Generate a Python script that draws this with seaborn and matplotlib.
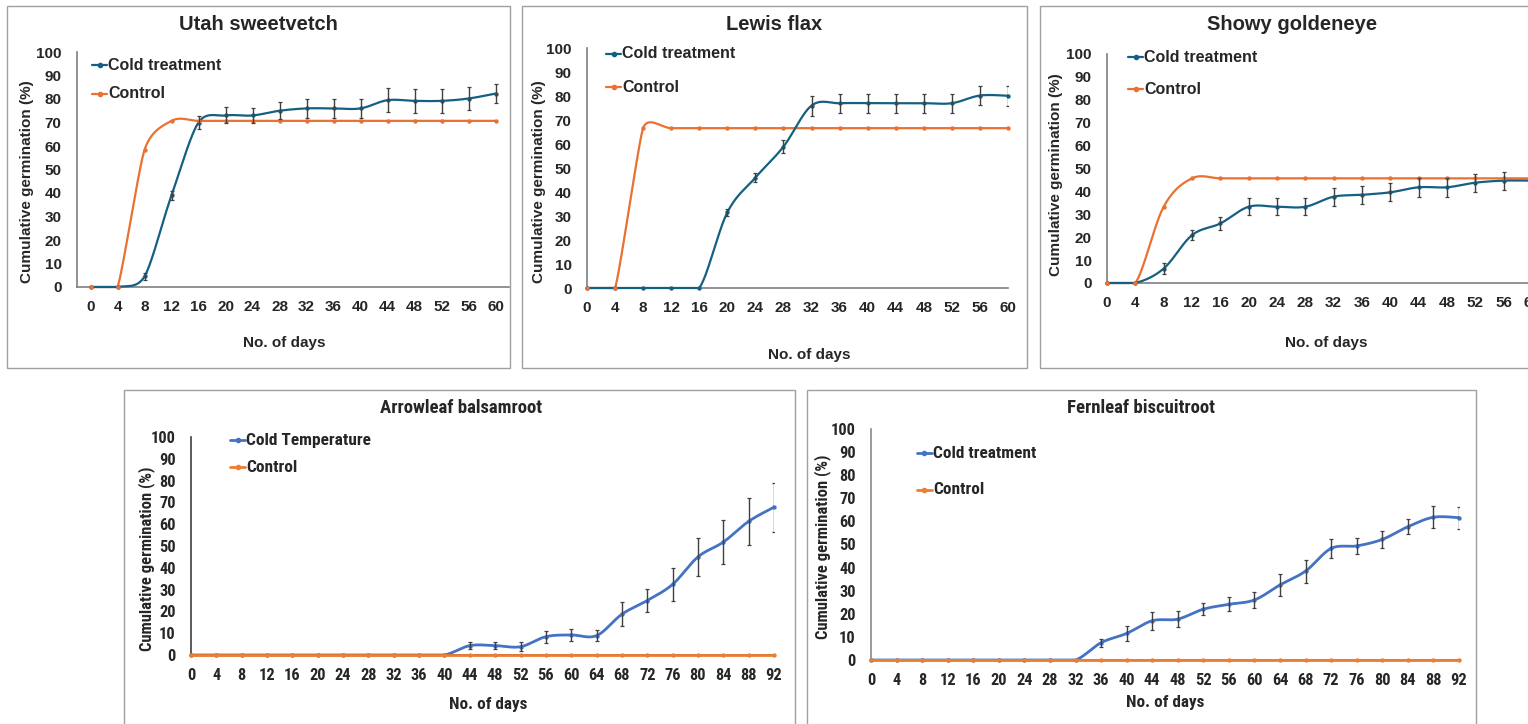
import numpy as np
import pandas as pd
import matplotlib
matplotlib.use("Agg")
import matplotlib.pyplot as plt
import seaborn as sns
from matplotlib import font_manager as fm
from matplotlib.lines import Line2D
from matplotlib.patches import Rectangle

# ---------------- data ----------------
days_60 = [0, 4, 8, 12, 16, 20, 24, 28, 32, 36, 40, 44, 48, 52, 56, 60]
days_92 = [0, 4, 8, 12, 16, 20, 24, 28, 32, 36, 40, 44, 48, 52, 56, 60,
           64, 68, 72, 76, 80, 84, 88, 92]

utah_cold = [0, 0, 4.5, 39, 70, 73, 73, 75, 76, 76, 76, 79.5, 79.2, 79.2, 80.2, 82.3]
utah_cold_err = [0, 0, 1.5, 2, 2.8, 3.4, 3.3, 3.7, 4.2, 4.2, 4.2, 5, 5, 5.1, 4.8, 3.9]
utah_control = [0, 0, 58.3, 70.7, 70.7, 70.7, 70.7, 70.7, 70.7, 70.7, 70.7, 70.7,
                70.7, 70.7, 70.7, 70.7]

lewis_cold = [0, 0, 0, 0, 0, 31.5, 46, 58.9, 76, 77, 77, 77, 77, 77, 80.2, 80.1]
lewis_cold_err = [0, 0, 0, 0, 0, 1.6, 2, 2.8, 4.2, 4, 4, 4, 4, 4, 4.1, 4.1]
lewis_control = [0, 0, 66.6, 66.6, 66.6, 66.6, 66.6, 66.6, 66.6, 66.6, 66.6, 66.6,
                 66.6, 66.6, 66.6, 66.6]

showy_cold = [0, 0, 6.3, 20.9, 26, 33.3, 33.3, 33.3, 37.7, 38.5, 39.6, 41.8, 41.8,
              43.8, 44.7, 44.7]
showy_cold_err = [0, 0, 2.3, 2.3, 3, 3.6, 3.6, 3.6, 3.9, 3.8, 4, 4.2, 4.2, 3.9, 3.9, 3.9]
showy_control = [0, 0, 33.3, 45.7, 45.7, 45.7, 45.7, 45.7, 45.7, 45.7, 45.7, 45.7,
                 45.7, 45.7, 45.7, 45.7]

arrow_cold = [0, 0, 0, 0, 0, 0, 0, 0, 0, 0, 0, 4.3, 4.3, 3.8, 8.4, 9.2, 8.9, 18.7,
              25, 32.4, 45, 51.8, 61.3, 67.8]
arrow_cold_err = [0, 0, 0, 0, 0, 0, 0, 0, 0, 0, 0, 1.6, 1.6, 2, 2.7, 2.6, 2.6, 5.5,
                  5.4, 7.7, 8.6, 10, 10.7, 11.2]
arrow_control = [0, 0, 0, 0, 0, 0, 0, 0, 0, 0, 0, 0, 0, 0, 0, 0, 0, 0, 0, 0, 0, 0, 0, 0]

fern_cold = [0, 0, 0, 0, 0, 0, 0, 0, 0, 7.5, 11.5, 17, 17.7, 22, 24.1, 26, 32.5, 38.5,
             48.3, 49.4, 52.2, 57.7, 61.8, 61.6]
fern_cold_err = [0, 0, 0, 0, 0, 0, 0, 0, 0, 1.8, 3.2, 3.8, 3.6, 2.7, 3.1, 3.6, 4.6, 5,
                 4, 3.5, 3.8, 3.2, 4.7, 4.7]
fern_control = [0, 0, 0, 0, 0, 0, 0, 0, 0, 0, 0, 0, 0, 0, 0, 0, 0, 0, 0, 0, 0, 0, 0, 0]

y_ticks = [0, 10, 20, 30, 40, 50, 60, 70, 80, 90, 100]

# ---------------- style ----------------
sns.set_style("white")


def pick_family(candidates):
    for fam in candidates:
        try:
            fm.findfont(fm.FontProperties(family=fam, weight="bold"),
                        fallback_to_default=False)
            return fam
        except Exception:
            continue
    return "DejaVu Sans"


WIDE = pick_family(["Liberation Sans", "Arial", "DejaVu Sans"])
NARROW = pick_family(["Liberation Sans Narrow", "Roboto Condensed", "Open Sans Condensed",
                      "DejaVu Sans Condensed", "Liberation Sans"])
plt.rcParams["font.family"] = [WIDE, "DejaVu Sans"]

W, H = 1528, 724
fig = plt.figure(figsize=(W / 100, H / 100), dpi=100)
fig.patch.set_facecolor("white")


def rect(l, r, t, b):
    return [l / W, 1 - b / H, (r - l) / W, (b - t) / H]


def fx(x):
    return x / W


def fy(y):
    return 1 - y / H


def excel_smooth(ax, x, y, n=30):
    """Bezier smoothing of a polyline in display space, Excel style."""
    P = ax.transData.transform(np.column_stack([x, y]))
    m = len(P)
    before, after = [], []
    for i in range(m):
        p0 = P[max(i - 1, 0)]
        p1 = P[i]
        p2 = P[min(i + 1, m - 1)]
        d02 = np.hypot(*(p2 - p0))
        d01 = np.hypot(*(p1 - p0))
        d12 = np.hypot(*(p2 - p1))
        if d02 == 0:
            before.append(p1)
            after.append(p1)
            continue
        lims = [d02 / 6]
        if d01 > 0:
            lims.append(d01 / 2)
        if d12 > 0:
            lims.append(d12 / 2)
        mag = min(lims)
        u = (p2 - p0) / d02
        before.append(p1 - u * mag)
        after.append(p1 + u * mag)
    t = np.linspace(0, 1, n)[:, None]
    pts = [P[:1]]
    for i in range(m - 1):
        a, b, c, d = P[i], after[i], before[i + 1], P[i + 1]
        seg = ((1 - t) ** 3) * a + 3 * ((1 - t) ** 2) * t * b + 3 * (1 - t) * t ** 2 * c + t ** 3 * d
        pts.append(seg[1:])
    pts = np.vstack(pts)
    out = ax.transData.inverted().transform(pts)
    return out[:, 0], np.clip(out[:, 1], 0, None)


panels = [
    dict(title="Utah sweetvetch", days=days_60, cold=utah_cold, err=utah_cold_err,
         control=utah_control, cold_label="Cold treatment",
         ax=(77, 509, 52, 287), xlim=(-2, 62), box=(7, 510, 6, 368),
         title_xy=(258, 24), xlabel_xy=(284, 343), ylabel_xy=(27, 182),
         legend=(92, 65, 94), family=WIDE, newtheme=True, control_on_top=False,
         tsize=14.5, ksize=11, lsize=11, ysize=11, gsize=11.5, spine="#7f7f7f"),
    dict(title="Lewis flax", days=days_60, cold=lewis_cold, err=lewis_cold_err,
         control=lewis_control, cold_label="Cold treatment",
         ax=(587, 1008, 48, 288), xlim=(0, 60), box=(522, 1027, 6, 368),
         title_xy=(774, 24), xlabel_xy=(809, 355), ylabel_xy=(539, 182),
         legend=(606, 54, 87), family=WIDE, newtheme=True, control_on_top=False,
         tsize=14.5, ksize=11, lsize=11, ysize=11, gsize=11.5, spine="#7f7f7f"),
    dict(title="Showy goldeneye", days=days_60, cold=showy_cold, err=showy_cold_err,
         control=showy_control, cold_label="Cold treatment",
         ax=(1107, 1532, 54, 283), xlim=(0, 60), box=(1040, 1560, 6, 368),
         title_xy=(1292, 24), xlabel_xy=(1326, 343), ylabel_xy=(1056, 175),
         legend=(1128, 57, 89), family=WIDE, newtheme=True, control_on_top=False,
         tsize=14.5, ksize=11, lsize=11, ysize=11, gsize=11.5, spine="#7f7f7f"),
    dict(title="Arrowleaf balsamroot", days=days_92, cold=arrow_cold, err=arrow_cold_err,
         control=arrow_control, cold_label="Cold Temperature",
         ax=(191, 774, 437, 655), xlim=(0, 92), box=(124, 795, 390, 760),
         title_xy=(461, 408), xlabel_xy=(488, 705), ylabel_xy=(147, 559),
         legend=(230, 440, 467), family=NARROW, newtheme=False, control_on_top=True,
         tsize=13.5, ksize=11.8, lsize=12.3, ysize=12, gsize=12.5, spine="#404040"),
    dict(title="Fernleaf biscuitroot", days=days_92, cold=fern_cold, err=fern_cold_err,
         control=fern_control, cold_label="Cold treatment",
         ax=(871, 1459, 429, 660), xlim=(0, 92), box=(807, 1476, 390, 760),
         title_xy=(1141, 408), xlabel_xy=(1165, 703), ylabel_xy=(823, 547),
         legend=(917, 453, 490), family=NARROW, newtheme=False, control_on_top=True,
         tsize=13.5, ksize=11.8, lsize=12.3, ysize=12, gsize=12.4, spine="#8a8a8a"),
]

for p in panels:
    l, r, t, b = p["box"]
    fig.add_artist(Rectangle((fx(l), fy(b)), (r - l) / W, (b - t) / H,
                             transform=fig.transFigure, fill=False,
                             edgecolor="#a0a0a0", linewidth=1.0))

    cold_c = "#156082" if p["newtheme"] else "#4472C4"
    ctrl_c = "#E97132" if p["newtheme"] else "#ED7D31"
    lw = 1.6 if p["newtheme"] else 2.0
    fam = p["family"]

    ax = fig.add_axes(rect(*p["ax"]))
    ax.set_facecolor("none")
    ax.set_xlim(*p["xlim"])
    ax.set_ylim(0, 100)

    days = np.array(p["days"], dtype=float)
    cold = np.array(p["cold"], dtype=float)
    err = np.array(p["err"], dtype=float)
    ctrl = np.array(p["control"], dtype=float)

    sx_c, sy_c = excel_smooth(ax, days, cold)
    sx_k, sy_k = excel_smooth(ax, days, ctrl)
    curve_c = pd.DataFrame({"day": sx_c, "val": sy_c})
    curve_k = pd.DataFrame({"day": sx_k, "val": sy_k})
    pts_c = pd.DataFrame({"day": days, "val": cold})
    pts_k = pd.DataFrame({"day": days, "val": ctrl})

    z_c, z_k = (2, 3) if p["control_on_top"] else (3, 2)
    sns.lineplot(data=curve_c, x="day", y="val", ax=ax, color=cold_c, lw=lw,
                 sort=False, estimator=None, zorder=z_c, clip_on=False)
    sns.lineplot(data=curve_k, x="day", y="val", ax=ax, color=ctrl_c, lw=lw,
                 sort=False, estimator=None, zorder=z_k, clip_on=False)
    sns.scatterplot(data=pts_c, x="day", y="val", ax=ax, color=cold_c, s=10,
                    linewidth=0, zorder=z_c + 0.1, clip_on=False)
    sns.scatterplot(data=pts_k, x="day", y="val", ax=ax, color=ctrl_c, s=10,
                    linewidth=0, zorder=3.5, clip_on=False)

    has = err > 0
    ax.errorbar(days[has], cold[has], yerr=err[has], fmt="none", ecolor="#404040",
                elinewidth=1.0, capsize=1.6, capthick=0.9, zorder=4)

    ax.set_xlabel("")
    ax.set_ylabel("")
    ax.set_xticks(p["days"])
    ax.set_xticklabels([str(d) for d in p["days"]], fontfamily=fam, fontweight="bold",
                       fontsize=p["ksize"])
    ax.set_yticks(y_ticks)
    ax.set_yticklabels([str(v) for v in y_ticks], fontfamily=fam, fontweight="bold",
                       fontsize=p["ksize"])
    ax.tick_params(axis="x", length=0, pad=9.5)
    ax.tick_params(axis="y", length=0, pad=11)
    for s in ("top", "right"):
        ax.spines[s].set_visible(False)
    for s in ("left", "bottom"):
        ax.spines[s].set_color(p["spine"])
        ax.spines[s].set_linewidth(1.2)

    fig.text(fx(p["title_xy"][0]), fy(p["title_xy"][1]), p["title"], ha="center",
             va="center", fontfamily=fam, fontweight="bold", fontsize=p["tsize"])
    fig.text(fx(p["xlabel_xy"][0]), fy(p["xlabel_xy"][1]), "No. of days", ha="center",
             va="center", fontfamily=fam, fontweight="bold", fontsize=p["lsize"])
    fig.text(fx(p["ylabel_xy"][0]), fy(p["ylabel_xy"][1]), "Cumulative germination (%)",
             ha="center", va="center", rotation=90, fontfamily=fam, fontweight="bold",
             fontsize=p["ysize"])

    lx, ly1, ly2 = p["legend"]
    for label, color, yy in ((p["cold_label"], cold_c, ly1), ("Control", ctrl_c, ly2)):
        fig.add_artist(Line2D([fx(lx), fx(lx + 15)], [fy(yy), fy(yy)], color=color,
                              lw=lw, transform=fig.transFigure))
        fig.add_artist(Line2D([fx(lx + 7.5)], [fy(yy)], marker="o", ms=3, color=color,
                              lw=0, transform=fig.transFigure))
        fig.text(fx(lx + 16), fy(yy), label, ha="left", va="center", fontfamily=fam,
                 fontweight="bold", fontsize=p["gsize"])

fig.savefig("out.png", dpi=100, facecolor="white")
